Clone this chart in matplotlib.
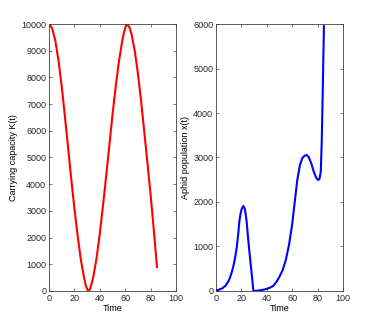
import matplotlib
matplotlib.use('Agg')
import matplotlib.pyplot as plt

# carrying capacity K(t)
t_k = [0, 2.5, 5, 7.5, 10, 12.5, 15, 17.5, 20, 22.5, 25, 27.5, 29, 30.5, 32, 33.5,
       35, 37.5, 40, 42.5, 45, 47.5, 50, 52.5, 55, 57.5, 59, 60.5, 62, 63.5, 65,
       67.5, 70, 72.5, 75, 77.5, 80, 82.5, 85]
k_vals = [10000, 9840, 9370, 8620, 7660, 6550, 5380, 4200, 3100, 2090, 1200, 520, 200, 20, 40, 260,
          560, 1250, 2150, 3200, 4300, 5450, 6600, 7650, 8580, 9320, 9680, 9930, 9980, 9850, 9620,
          9000, 8150, 7120, 5970, 4800, 3600, 2300, 900]

# aphid population x(t)
t_x = [0, 2.5, 5, 7.5, 10, 11, 12.5, 13.6, 15, 16.3, 17.5, 18.4, 19.3, 20.2, 21.5, 22.8, 24.1,
       25.5, 26.5, 27.3, 28.5, 29.4, 30.4, 32, 35, 37.5, 40, 42.5, 45, 47.5, 50, 52.5, 55,
       57.5, 60, 62, 64, 66, 68, 70, 71.5, 73, 75, 77, 79, 80.5, 81.5, 82.5, 83.3, 84, 84.5, 85]
x_vals = [15, 30, 60, 120, 230, 300, 430, 545, 740, 970, 1280, 1570, 1730, 1840, 1910, 1840, 1570,
          1120, 830, 600, 280, 15, 0, 5, 18, 30, 50, 75, 112, 200, 320, 470, 700,
          1040, 1500, 2000, 2490, 2820, 2990, 3045, 3055, 3010, 2870, 2680, 2540, 2495, 2520, 2680, 3400, 4400, 5200, 5950]

plt.rcParams['font.family'] = ['Liberation Sans', 'DejaVu Sans']
plt.rcParams['font.size'] = 6.5

fig = plt.figure(figsize=(3.79, 3.27), dpi=100)
ax1 = fig.add_axes([0.1293, 0.1101, 0.3351, 0.8165])
ax2 = fig.add_axes([0.5699, 0.1101, 0.3351, 0.8165])

ax1.plot(t_k, k_vals, color='#ff0000', lw=1.5)
ax1.set_xlim(0, 100)
ax1.set_ylim(0, 10000)
ax1.set_yticks(range(0, 10001, 1000))
ax1.set_xlabel('Time', labelpad=1)
ax1.set_ylabel('Carrying capacity K(t)', labelpad=2)

ax2.plot(t_x, x_vals, color='#0000ff', lw=1.5)
ax2.set_xlim(0, 100)
ax2.set_ylim(0, 6000)
ax2.set_yticks(range(0, 6001, 1000))
ax2.set_xlabel('Time', labelpad=1)
ax2.set_ylabel('Aphid population x(t)', labelpad=2)

for ax in (ax1, ax2):
    ax.set_xticks(range(0, 101, 20))
    ax.tick_params(direction='in', top=True, right=True, length=2.5, width=0.5,
                   colors='#404040', labelcolor='#262626', pad=2)
    for s in ax.spines.values():
        s.set_color('#404040')
        s.set_linewidth(0.6)

fig.savefig('out.png', dpi=100)
